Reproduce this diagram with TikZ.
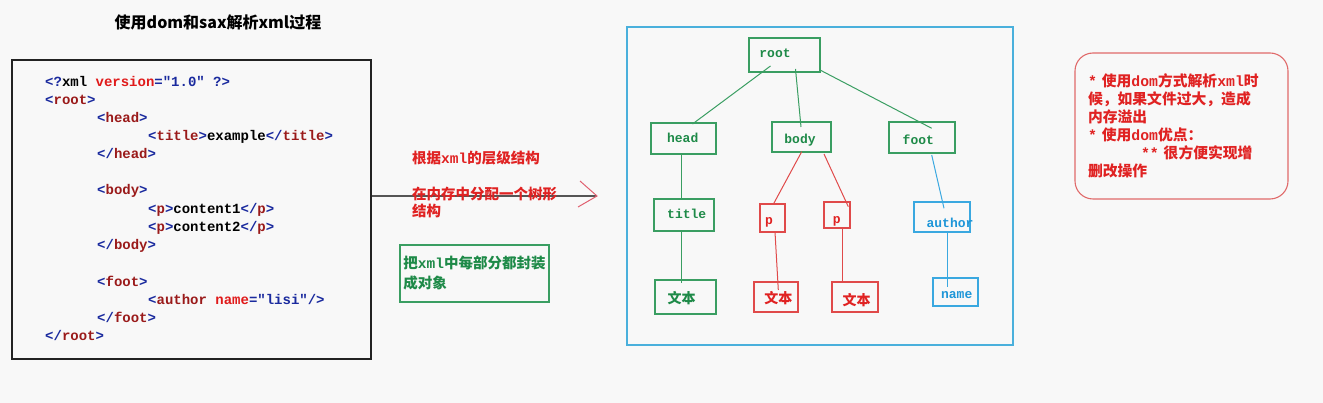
\documentclass[tikz,border=0pt]{standalone}
\usepackage{fontspec}
\usetikzlibrary{calc}
\newfontfamily\cjk{Noto Sans CJK SC}
\newfontfamily\monof{Liberation Mono}
\newcommand\mn[1]{{\monof\bfseries #1}}
\definecolor{bgc}{HTML}{F8F8F8}
\definecolor{codeframe}{HTML}{222222}
\definecolor{codeblue}{HTML}{1A2A9E}
\definecolor{codetag}{HTML}{9A1A1A}
\definecolor{codeattr}{HTML}{E01A1A}
\definecolor{tgreen}{HTML}{3A9E62}
\definecolor{tgreentext}{HTML}{1E8A48}
\definecolor{tred}{HTML}{E04A4A}
\definecolor{tredtext}{HTML}{E02222}
\definecolor{tblue}{HTML}{3AA8E0}
\definecolor{tbluetext}{HTML}{1E96D8}
\definecolor{framebox}{HTML}{4AB0DC}
\definecolor{notered}{HTML}{E06A6A}
\definecolor{arrowgray}{HTML}{555555}
\definecolor{headpink}{HTML}{E06070}
\newcommand\cb[1]{\textcolor{codeblue}{#1}}
\newcommand\ct[1]{\textcolor{codetag}{#1}}
\newcommand\ca[1]{\textcolor{codeattr}{#1}}
\begin{document}
\begin{tikzpicture}[x=1pt,y=-1pt,
  codeline/.style={anchor=base west, inner sep=0, font=\monof\bfseries\fontsize{14}{16}\selectfont},
  tbox/.style={draw, line width=1.1pt, inner sep=0, rectangle},
  ttext/.style={inner sep=0, font=\monof\bfseries\fontsize{13}{15}\selectfont},
  tcjk/.style={inner sep=0, font=\cjk\bfseries\fontsize{14}{16}\selectfont},
  tedge/.style={line width=1pt},
  redtxt/.style={inner sep=0, text=tredtext, font=\cjk\bfseries\fontsize{14.5}{17}\selectfont}]
\useasboundingbox (0,0) rectangle (1323,403);
\fill[bgc] (0,0) rectangle (1323,403);

% title
\node[font=\cjk\bfseries\fontsize{16}{19}\selectfont, inner sep=0] (ttl) at (218,22) {使用dom和sax解析xml过程};

% code box
\node[draw=codeframe, line width=1.2pt, minimum width=359pt, minimum height=299pt, inner sep=0] (code) at (191.5,209.5) {};
\node[codeline] (c1) at (45,87) {\cb{<?}xml \ca{version}\cb{="1.0" ?>}};
\node[codeline] (c2) at (45,105) {\cb{<}\ct{root}\cb{>}};
\node[codeline] (c3) at (97,123) {\cb{<}\ct{head}\cb{>}};
\node[codeline] (c4) at (148,141) {\cb{<}\ct{title}\cb{>}example\cb{</}\ct{title}\cb{>}};
\node[codeline] (c5) at (97,159) {\cb{</}\ct{head}\cb{>}};
\node[codeline] (c6) at (97,195) {\cb{<}\ct{body}\cb{>}};
\node[codeline] (c7) at (148,214) {\cb{<}\ct{p}\cb{>}content1\cb{</}\ct{p}\cb{>}};
\node[codeline] (c8) at (148,232) {\cb{<}\ct{p}\cb{>}content2\cb{</}\ct{p}\cb{>}};
\node[codeline] (c9) at (97,250) {\cb{</}\ct{body}\cb{>}};
\node[codeline] (c10) at (97,287) {\cb{<}\ct{foot}\cb{>}};
\node[codeline] (c11) at (148,305) {\cb{<}\ct{author} \ca{name}\cb{="lisi"/>}};
\node[codeline] (c12) at (97,323) {\cb{</}\ct{foot}\cb{>}};
\node[codeline] (c13) at (45,341) {\cb{</}\ct{root}\cb{>}};

% arrow
\coordinate (tip) at (597,196);
\draw[arrowgray, line width=1.2pt] ($(code.east)+(0,-13.5)$) -- (tip);
\draw[headpink, line width=1pt] ($(tip)+(-17,-15)$) -- (tip) -- ($(tip)+(-19,11)$);

% middle texts
\node[redtxt, anchor=west] (m1) at (412,158) {根据\mn{xml}的层级结构};
\node[redtxt, anchor=north west, align=left] (m2) at (412,187) {在内存中分配一个树形\\结构};
\node[draw=tgreen, line width=1.1pt, minimum width=149pt, minimum height=57pt, align=left, text=tgreentext, inner sep=3pt,
  font=\cjk\bfseries\fontsize{14.5}{20}\selectfont] (gb) at (474.5,273.5) {把\mn{xml}中每部分都封装\\成对象};

% tree frame
\node[draw=framebox, line width=1.3pt, minimum width=386pt, minimum height=318pt, inner sep=0] (frame) at (820,186) {};

% tree nodes
\node[tbox, draw=tgreen, minimum width=71pt, minimum height=34pt] (root) at (784.5,55) {};
\node[tbox, draw=tgreen, minimum width=65pt, minimum height=31pt] (head) at (683.5,138.5) {};
\node[tbox, draw=tgreen, minimum width=59pt, minimum height=30pt] (body) at (801.5,137) {};
\node[tbox, draw=tgreen, minimum width=66pt, minimum height=31pt] (foot) at (922,137.5) {};
\node[tbox, draw=tgreen, minimum width=60pt, minimum height=32pt] (title) at (684,215) {};
\node[tbox, draw=tred, minimum width=25pt, minimum height=28pt] (p1) at (772.5,218) {};
\node[tbox, draw=tred, minimum width=26pt, minimum height=26pt] (p2) at (837,215) {};
\node[tbox, draw=tblue, minimum width=56pt, minimum height=30pt] (author) at (942,217) {};
\node[tbox, draw=tgreen, minimum width=61pt, minimum height=34pt] (w1) at (685.5,297) {};
\node[tbox, draw=tred, minimum width=44pt, minimum height=30pt] (w2) at (776,297) {};
\node[tbox, draw=tred, minimum width=46pt, minimum height=30pt] (w3) at (855,297) {};
\node[tbox, draw=tblue, minimum width=45pt, minimum height=28pt] (name) at (955.5,292) {};

% tree texts
\node[ttext, text=tgreentext] (rootT) at (775,53) {root};
\node[ttext, text=tgreentext] (headT) at (682.7,138.3) {head};
\node[ttext, text=tgreentext] (bodyT) at (800,140) {body};
\node[ttext, text=tgreentext] (footT) at (918.3,140) {foot};
\node[ttext, text=tgreentext] (titleT) at (686.7,214) {title};
\node[ttext, text=tredtext] (p1T) at (769,222) {p};
\node[ttext, text=tredtext] (p2T) at (836.7,221) {p};
\node[ttext, text=tbluetext] (authorT) at (950,222.7) {author};
\node[tcjk, text=tgreentext] (w1T) at (681.7,298.3) {文本};
\node[tcjk, text=tredtext] (w2T) at (778.3,298.3) {文本};
\node[tcjk, text=tredtext] (w3T) at (856.7,300) {文本};
\node[ttext, text=tbluetext] (nameT) at (956.7,295.3) {name};

% tree edges
\draw[tedge, tgreen] ($(root)+(-14,11)$) -- ($(head)+(9,-14.5)$);
\draw[tedge, tgreen] ($(root)+(11,14)$) -- ($(body)+(-0.5,-10)$);
\draw[tedge, tgreen] ($(root)+(35.5,15)$) -- ($(foot)+(9.7,-9.2)$);
\draw[tedge, tgreen] ($(head)+(-2.5,15.5)$) -- ($(title)+(-3,-16)$);
\draw[tedge, tgreen] ($(title)+(-2.3,16)$) -- ($(w1)+(-3.8,-13.7)$);
\draw[tedge, tred] ($(body)+(0.2,14.7)$) -- ($(p1)+(0.8,-13.7)$);
\draw[tedge, tred] ($(body)+(22.5,17)$) -- ($(p2)+(11.3,-8.3)$);
\draw[tedge, tred] ($(p1)+(2.5,14)$) -- ($(w2)+(2.3,-7)$);
\draw[tedge, tred] ($(p2)+(5.7,13)$) -- ($(w3)+(-12.3,-15)$);
\draw[tedge, tblue] ($(foot)+(9.7,17.5)$) -- ($(author)+(2,-8.7)$);
\draw[tedge, tblue] ($(author)+(5.3,15)$) -- ($(name)+(-8.2,-5.3)$);

% note box
\node[draw=notered, rounded corners=18pt, line width=1.1pt, minimum width=213pt, minimum height=146pt,
  text width=187pt, inner xsep=13pt, inner ysep=0pt, align=left, text=tredtext,
  font=\cjk\bfseries\fontsize{14.8}{18}\selectfont] (note) at (1181.5,126)
  {\mn{*\ }使用\mn{dom}方式解析\mn{xml}时\\
   候，如果文件过大，造成\\
   内存溢出\\
   \mn{*\ }使用\mn{dom}优点：\\
   \hspace*{53pt}\mn{**\ }很方便实现增\\
   删改操作};
\end{tikzpicture}
\end{document}
